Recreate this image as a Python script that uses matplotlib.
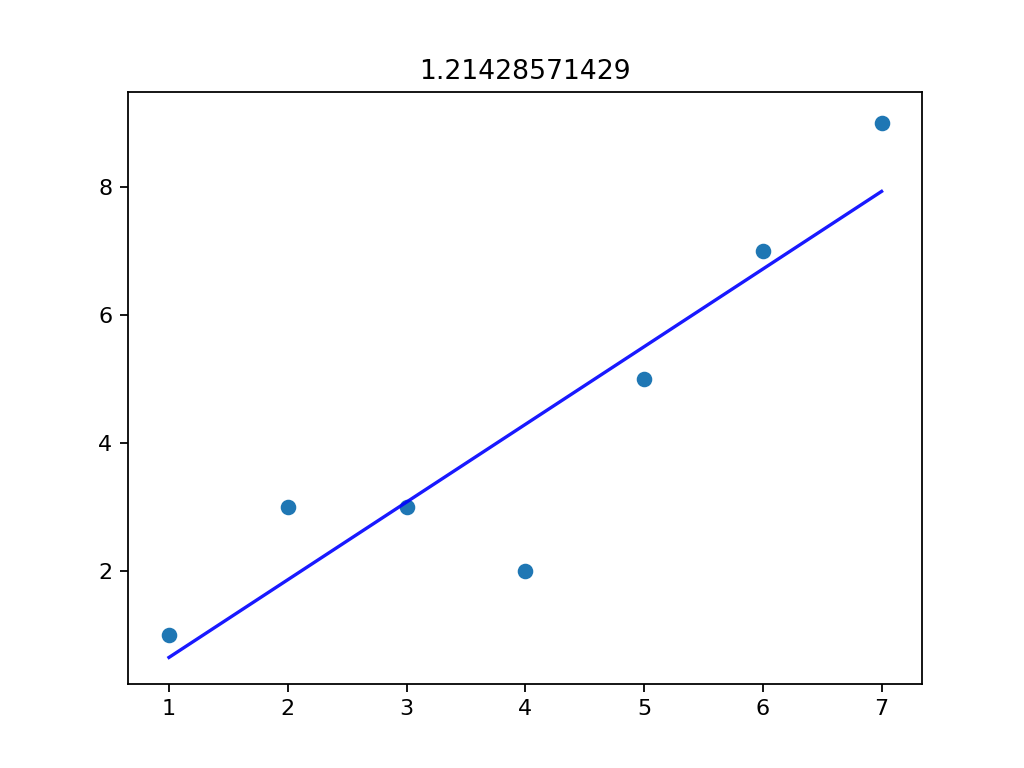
import numpy as np
from matplotlib import pyplot as plt

# sample points
xs = [1, 2, 3, 4, 5, 6, 7]
ys = [1, 3, 3, 2, 5, 7, 9]
titleText = "1.21428571429"

# least squares line through the points
slope, intercept = np.polyfit(xs, ys, 1)
fitLine = [slope * x + intercept for x in xs]

fig = plt.figure(figsize=(6.4, 4.8), dpi=160)
plt.scatter(xs, ys)
plt.plot(xs, fitLine, color='b', alpha=0.9)
plt.title(titleText)
plt.xlim(0.655, 7.337)
plt.ylim(0.235, 9.48)
plt.savefig("out.png", dpi=160)
